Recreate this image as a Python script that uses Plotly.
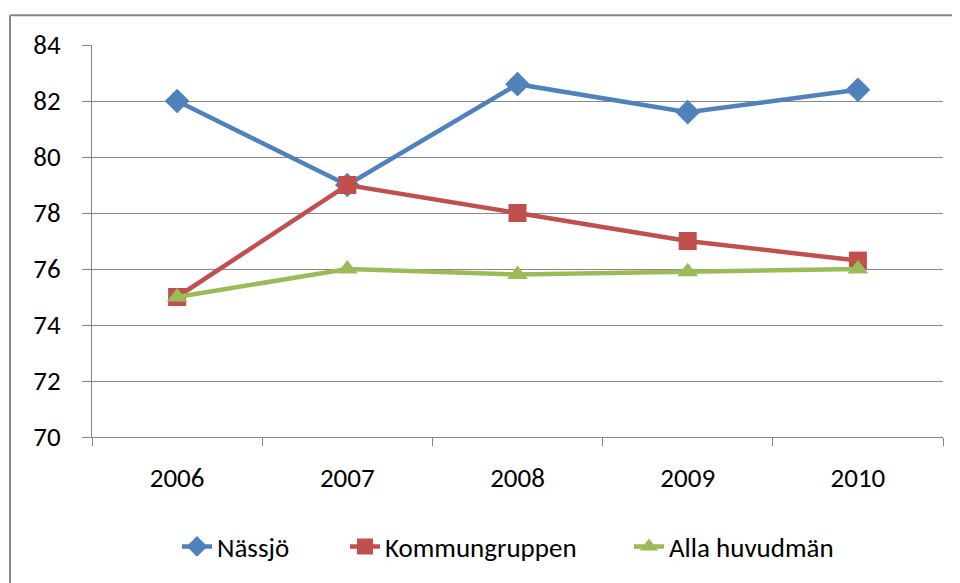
import plotly.graph_objects as go

years = ["2006", "2007", "2008", "2009", "2010"]
nassjo = [82.0, 79.0, 82.6, 81.6, 82.4]
kommungruppen = [75.0, 79.0, 78.0, 77.0, 76.3]
alla = [75.0, 76.0, 75.8, 75.9, 76.0]

FONT = "Carlito, 'Liberation Sans Narrow', 'Liberation Sans', sans-serif"
FS = 27
# page body has an 8px offset; figure placed at (8, 8)
OFF = 8
W, H = 960 - OFF, 583 - OFF
L, R, T, B = 92 - OFF, 17, 45 - OFF, 142

pw = W - L - R
ph = H - T - B
def px(x):
    return (x - OFF - L) / pw
def py(y):
    return (H - B - (y - OFF)) / ph

fig = go.Figure()
series = [
    ("Nässjö", nassjo, "#4F81BD", "diamond", 19, "legend", 177),
    ("Kommungruppen", kommungruppen, "#C0504D", "square", 18, "legend2", 345),
    ("Alla huvudmän", alla, "#9BBB59", "triangle-up", 18, "legend3", 629),
]
legends = {}
for name, vals, col, sym, sz, lg, lx in series:
    fig.add_trace(go.Scatter(
        x=years, y=vals, name=name, mode="lines+markers",
        line=dict(color=col, width=4.5),
        marker=dict(symbol=sym, size=sz, color=col),
        legend=lg,
    ))
    legends[lg] = dict(orientation="h", x=px(lx), xanchor="left", y=py(552), yanchor="middle",
                       font=dict(size=FS, family=FONT), bgcolor="rgba(0,0,0,0)")

fig.update_layout(
    width=W, height=H,
    margin=dict(l=L, r=R, t=T, b=B),
    paper_bgcolor="white", plot_bgcolor="white",
    font=dict(family=FONT, size=FS, color="#000000"),
    showlegend=True,
    **legends,
    xaxis=dict(type="category", range=[-0.5, 4.5], showgrid=False,
               showline=True, linecolor="#868686", linewidth=1,
               ticks="outside", ticklen=8, tickcolor="#868686",
               tickson="boundaries", ticklabelstandoff=17,
               tickfont=dict(size=FS)),
    yaxis=dict(range=[70, 84], dtick=2, showgrid=True, gridcolor="#868686", gridwidth=1,
               showline=True, linecolor="#868686", linewidth=1,
               ticks="outside", ticklen=9, tickcolor="#868686",
               ticklabelstandoff=16, zeroline=False,
               tickfont=dict(size=FS)),
    shapes=[
        dict(type="line", xref="paper", yref="paper", x0=px(10), x1=px(970), y0=py(15), y1=py(15),
             line=dict(color="#868686", width=2)),
        dict(type="line", xref="paper", yref="paper", x0=px(10), x1=px(10), y0=py(15), y1=py(600),
             line=dict(color="#868686", width=2)),
    ],
)

fig.write_html("out.html")
